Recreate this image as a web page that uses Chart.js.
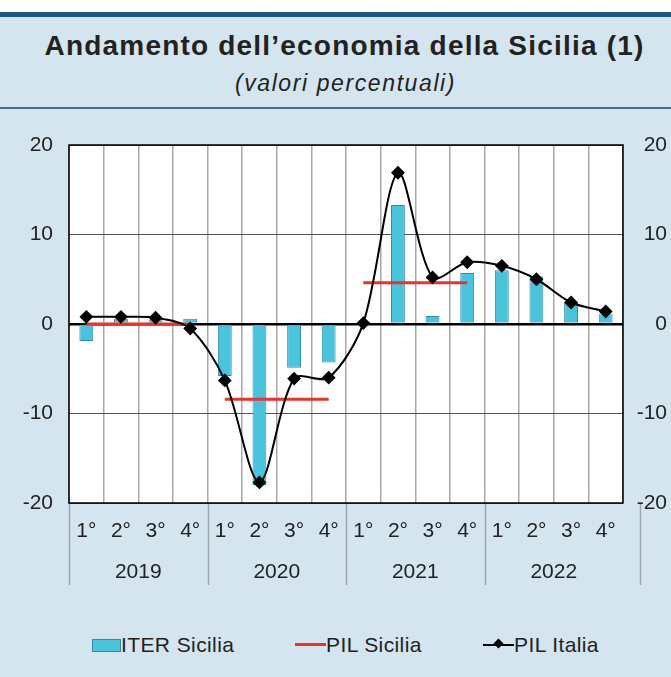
<!DOCTYPE html>
<html><head><meta charset="utf-8">
<script src="https://cdn.jsdelivr.net/npm/chart.js@4/dist/chart.umd.min.js"></script>
<style>
html,body{margin:0;padding:0;}
body{width:671px;height:677px;background:#d4e5ef;position:relative;overflow:hidden;font-family:"Liberation Sans",Arial,sans-serif;}
#top{position:absolute;left:0;top:0;width:671px;height:12px;background:#fff;}
#band{position:absolute;left:0;top:12px;width:671px;height:5px;background:#1d5b80;}
#sep{position:absolute;left:0;top:107px;width:671px;height:2px;background:#4d6f84;}
#title{position:absolute;left:9px;top:30px;width:671px;text-align:center;font-weight:bold;font-size:28px;letter-spacing:1.2px;color:#222;white-space:nowrap;}
#sub{position:absolute;left:10px;top:70px;width:671px;text-align:center;font-style:italic;font-size:23px;letter-spacing:1.6px;color:#222;}
#wrap{position:absolute;left:0;top:110px;width:671px;height:500px;}
.lg{position:absolute;top:633px;font-size:21px;letter-spacing:0.4px;color:#222;line-height:24px;white-space:nowrap;}
</style></head><body>
<div id="top"></div><div id="band"></div>
<div id="title">Andamento dell’economia della Sicilia (1)</div>
<div id="sub">(valori percentuali)</div>
<div id="sep"></div>
<div id="wrap"><canvas id="c" width="671" height="500"></canvas></div>
<div class="lg" style="left:92px;"><span style="display:inline-block;width:27px;height:11px;background:#48c4dc;border:1px solid #2f8ea6;vertical-align:0px;"></span>ITER Sicilia</div>
<div class="lg" style="left:295px;"><span style="display:inline-block;width:31px;height:3px;background:#e8332e;vertical-align:6px;"></span>PIL Sicilia</div>
<div class="lg" style="left:483px;"><span style="display:inline-block;width:31px;height:2px;background:#000;vertical-align:6px;position:relative;"><span style="position:absolute;left:12px;top:-4px;width:7px;height:7px;background:#000;transform:rotate(45deg);"></span></span>PIL Italia</div>
<script>
const quarters = ['1°','2°','3°','4°','1°','2°','3°','4°','1°','2°','3°','4°','1°','2°','3°','4°'];
const years = ['2019','2020','2021','2022'];
const iterSicilia = [-1.9,0.6,0.5,0.6,-5.8,-18.0,-4.9,-4.3,0,13.3,0.9,5.7,6.0,5.3,2.5,1.1];
const pilSicilia = [0,0,0,0,-8.4,-8.4,-8.4,-8.4,4.6,4.6,4.6,4.6,null,null,null,null];
const pilItalia = [0.8,0.8,0.7,-0.5,-6.3,-17.7,-6.1,-6.0,0.1,16.9,5.2,6.9,6.5,5.0,2.4,1.4];
const yTicks = [-20,-10,0,10,20];

const bgPlugin = {
  id:'bg',
  beforeDraw(chart){
    const {ctx, chartArea:a} = chart;
    ctx.save(); ctx.fillStyle='#fff'; ctx.fillRect(a.left,a.top,a.right-a.left,a.bottom-a.top); ctx.restore();
  },
  afterDraw(chart){
    const {ctx, chartArea:a} = chart;
    const x = chart.scales.x;
    const step = x.getPixelForValue(1)-x.getPixelForValue(0);
    ctx.save();
    ctx.strokeStyle='#9aa8b2'; ctx.lineWidth=1.5;
    for(let i=0;i<=quarters.length;i+=4){
      const px = (i<quarters.length ? x.getPixelForValue(i) : x.getPixelForValue(i-1)+step) - (i<quarters.length ? step/2 : 0);
      ctx.beginPath(); ctx.moveTo(Math.round(px)+0.5,a.bottom+1); ctx.lineTo(Math.round(px)+0.5,a.bottom+82); ctx.stroke();
    }
    ctx.strokeStyle='#000'; ctx.lineWidth=1.5;
    ctx.strokeRect(a.left,a.top,a.right-a.left,a.bottom-a.top);
    ctx.restore();
  }
};

const tickFont = {family:'Liberation Sans',size:21};
new Chart(document.getElementById('c'),{
  data:{
    labels: quarters,
    datasets:[
      {type:'line',label:'PIL Italia',data:pilItalia,borderColor:'#000',backgroundColor:'#000',borderWidth:2,
        pointStyle:'rectRot',pointRadius:5.5,pointBackgroundColor:'#000',tension:0.3,order:0},
      {type:'line',label:'PIL Sicilia',data:pilSicilia,borderColor:'#e8332e',borderWidth:3,pointRadius:0,spanGaps:false,
        segment:{borderColor:c=> (c.p0DataIndex%4===3)?'rgba(0,0,0,0)':'#e8332e'},order:1},
      {type:'bar',label:'ITER Sicilia',data:iterSicilia,backgroundColor:'#48c4dc',borderColor:'#2f8ea6',borderWidth:1,
        barPercentage:0.4,categoryPercentage:1,order:2}
    ]
  },
  options:{
    responsive:false,animation:false,
    layout:{padding:{left:0,right:4,top:35,bottom:12}},
    plugins:{legend:{display:false},tooltip:{enabled:false}},
    scales:{
      x:{type:'category',position:'bottom',offset:true,
        grid:{offset:true,drawTicks:false,color:'#a8a8a8',lineWidth:1.5},
        border:{display:false},
        ticks:{padding:16,color:'#222',font:tickFont,maxRotation:0,autoSkip:false},
        afterFit(s){s.height=45;}},
      x2:{type:'category',position:'bottom',labels:years,offset:true,
        grid:{display:false,drawTicks:false},border:{display:false},
        ticks:{padding:12,color:'#222',font:tickFont},
        afterFit(s){s.height=50;}},
      y:{position:'left',min:-20,max:20,
        afterBuildTicks(s){s.ticks=yTicks.map(v=>({value:v}));},
        grid:{drawTicks:false,color:c=>c.tick.value===0?'#000':'#555',lineWidth:c=>c.tick.value===0?2.5:1},
        border:{display:false},
        ticks:{padding:16,color:'#222',font:tickFont},
        afterFit(s){s.width=69;}},
      y2:{position:'right',min:-20,max:20,
        afterBuildTicks(s){s.ticks=yTicks.map(v=>({value:v}));},
        grid:{drawOnChartArea:false,drawTicks:false},border:{display:false},
        ticks:{padding:8,crossAlign:'far',color:'#222',font:tickFont},
        afterFit(s){s.width=44;}}
    }
  },
  plugins:[bgPlugin]
});
</script>
</body></html>
